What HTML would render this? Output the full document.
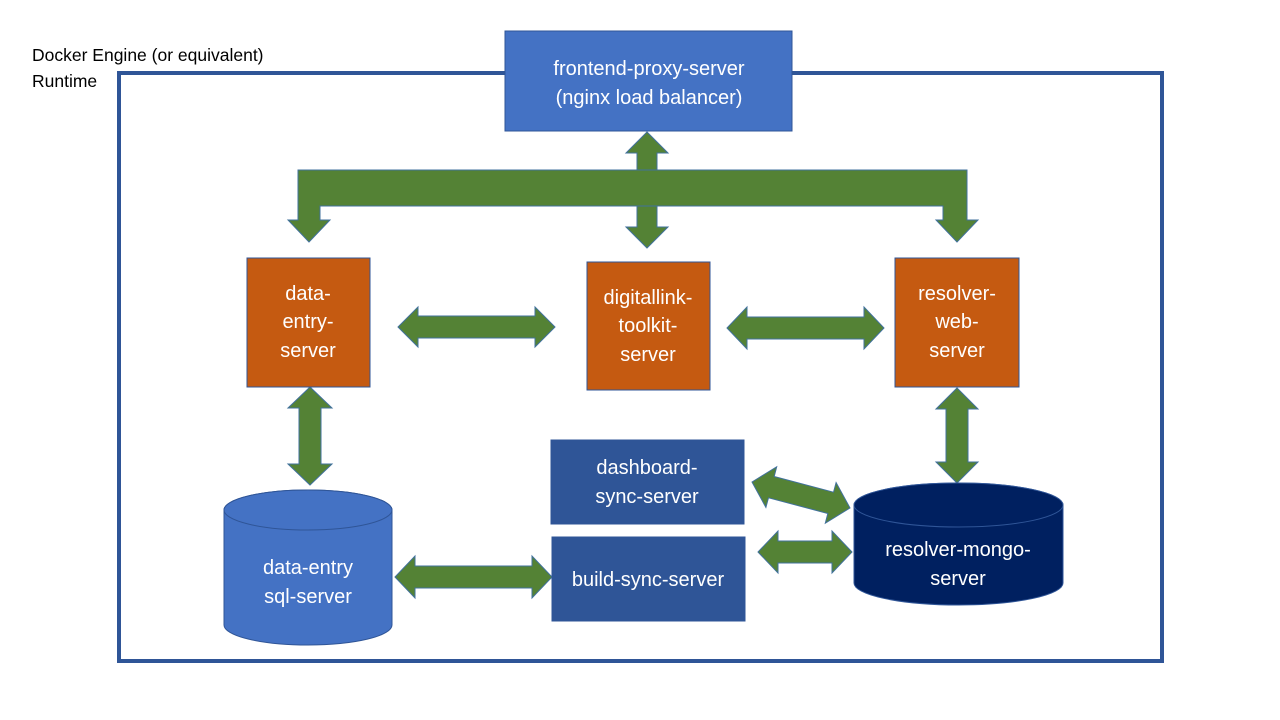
<!DOCTYPE html>
<html><head><meta charset="utf-8"><style>
body{margin:0;width:1280px;height:720px;background:#fff;overflow:hidden}
svg{display:block}
text{font-family:"Liberation Sans",sans-serif;font-size:20px;fill:#fff;text-anchor:middle}
.k{fill:#000;text-anchor:start;font-size:17.5px}
</style></head><body>
<svg id="s" width="1280" height="720" xmlns="http://www.w3.org/2000/svg">
<rect x="119" y="73" width="1043" height="588" fill="none" stroke="#2f5597" stroke-width="4"/>
<text class="k" x="32" y="61">Docker Engine (or equivalent)</text>
<text class="k" x="32" y="87">Runtime</text>
<rect x="505" y="31" width="287" height="100" fill="#4472c4" stroke="#2f5597"/>
<text x="649" y="75">frontend-proxy-server</text>
<text x="649" y="104">(nginx load balancer)</text>
<g id="arr0" fill="#548235" stroke="#41719c" stroke-width="1"></g>
<g fill="#548235" stroke="#41719c" stroke-width="1">
<polygon points="298,170 967,170 967,220 978,220 957,242 936,220 943,220 943,206 320,206 320,220 330,220 309,242 288,220 298,220"/>
</g>
<g id="arr" fill="#548235" stroke="#41719c" stroke-width="1"></g>
<rect x="247" y="258" width="123" height="129" fill="#c55a11" stroke="#2f5597"/>
<text x="308" y="300">data-</text><text x="308" y="328">entry-</text><text x="308" y="357">server</text>
<rect x="587" y="262" width="123" height="128" fill="#c55a11" stroke="#2f5597"/>
<text x="648" y="304">digitallink-</text><text x="648" y="332">toolkit-</text><text x="648" y="361">server</text>
<rect x="895" y="258" width="124" height="129" fill="#c55a11" stroke="#2f5597"/>
<text x="957" y="300">resolver-</text><text x="957" y="328">web-</text><text x="957" y="357">server</text>
<rect x="551" y="440" width="193" height="84" fill="#2f5597" stroke="#2f5597"/>
<text x="647" y="474">dashboard-</text><text x="647" y="503">sync-server</text>
<rect x="552" y="537" width="193" height="84" fill="#2f5597" stroke="#2f5597"/>
<text x="648" y="586">build-sync-server</text>
<path d="M224,510 A84,20 0 0 1 392,510 L392,625 A84,20 0 0 1 224,625 Z" fill="#4472c4" stroke="#2f5597"/>
<ellipse cx="308" cy="510" rx="84" ry="20" fill="#4472c4" stroke="#2f5597"/>
<text x="308" y="574">data-entry</text><text x="308" y="603">sql-server</text>
<path d="M854,505 A104.5,22 0 0 1 1063,505 L1063,583 A104.5,22 0 0 1 854,583 Z" fill="#002060" stroke="#2f5597"/>
<ellipse cx="958.5" cy="505" rx="104.5" ry="22" fill="#002060" stroke="#2f5597"/>
<text x="958" y="556">resolver-mongo-</text><text x="958" y="585">server</text>
</svg>
<script>
function da(g,x1,y1,x2,y2,hw,sw,hl){
 var dx=x2-x1,dy=y2-y1,L=Math.hypot(dx,dy),ux=dx/L,uy=dy/L,nx=-uy,ny=ux;
 function p(t,o){return (x1+ux*t+nx*o).toFixed(1)+","+(y1+uy*t+ny*o).toFixed(1)}
 var pts=[p(0,0),p(hl,hw),p(hl,sw),p(L-hl,sw),p(L-hl,hw),p(L,0),p(L-hl,-hw),p(L-hl,-sw),p(hl,-sw),p(hl,-hw)];
 var e=document.createElementNS("http://www.w3.org/2000/svg","polygon");
 e.setAttribute("points",pts.join(" "));document.getElementById(g).appendChild(e);
}
da("arr0",647,132,647,248,21,10,21);
da("arr",398,327,555,327,20,11,20);
da("arr",727,328,884,328,21,11,20);
da("arr",310,387,310,485,22,11,21);
da("arr",957,388,957,483,21,11,21);
da("arr",395,577,552,577,21,11,20);
da("arr",758,552,852,552,21,11,20);
da("arr",752,482,850,508,21,11,20);
</script>
</body></html>
